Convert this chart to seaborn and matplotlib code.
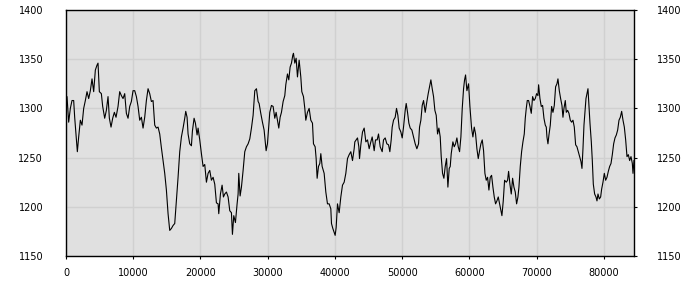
import matplotlib
matplotlib.use("Agg")
import matplotlib.pyplot as plt
import seaborn as sns
import pandas as pd

x_values = [
    0, 149, 397, 645, 893, 1141, 1290, 1488, 1687, 1885, 2133, 2381, 2629, 2877, 3125, 3373, 3621, 3869,
    4117, 4365, 4613, 4762, 4960, 5258, 5456, 5754, 6002, 6250, 6448, 6696, 6944, 7192, 7440, 7738, 7986,
    8234, 8482, 8730, 8978, 9226, 9474, 9722, 9970, 10218, 10466, 10714, 10962, 11210, 11458, 11706, 11954,
    12202, 12450, 12698, 12946, 13194, 13442, 13690, 13938, 14186,
    14434, 14682, 14930, 15178, 15426, 15674, 15922, 16170, 16418, 16666, 16914, 17162, 17410, 17658, 17807,
    18005, 18154, 18402, 18650, 18799, 19047, 19245, 19493, 19642, 19890, 20138, 20386, 20634, 20882, 21130,
    21378, 21626, 21874, 22122, 22370, 22618, 22717, 22965, 23213, 23412, 23610, 23858, 24106, 24354, 24602,
    24751, 24949, 25197, 25445, 25594, 25693, 25892, 26090, 26338, 26586, 26834, 27082, 27330, 27578, 27826,
    28074, 28322, 28570,
    28718, 28966, 29214, 29462, 29611, 29760, 29958, 30107, 30305, 30553, 30801, 31049, 31248, 31446, 31644,
    31843, 32041, 32289, 32537, 32686, 32934, 33132, 33331, 33529, 33728, 33827, 34025, 34224, 34422, 34670,
    34918, 35067, 35315, 35513, 35662, 35910, 36158, 36406, 36654, 36803, 37051, 37200, 37348, 37547, 37745,
    37894, 38092, 38390, 38638, 38886, 39134, 39382, 39481, 39680, 39878, 40027, 40176, 40374, 40622, 40870,
    41118, 41366, 41614, 41862, 42110, 42358, 42606, 42854,
    42953, 43152, 43350, 43549, 43648, 43846, 44094, 44342, 44590, 44838, 45086, 45334, 45533, 45831, 46029,
    46277, 46475, 46723, 47021, 47219, 47467, 47715, 47963, 48161, 48360, 48509, 48707, 48955, 49153, 49352,
    49550, 49798, 49997, 50195, 50443, 50592, 50790, 50989, 51187, 51435, 51683, 51931, 52179, 52427, 52576,
    52774, 52973, 53171, 53419, 53667, 53865, 54064, 54262, 54461, 54659, 54857, 55056, 55254, 55453, 55651,
    55800, 55998, 56197, 56395, 56594, 56792, 56990, 57139,
    57288, 57536, 57734, 57933, 58131, 58330, 58528, 58726, 58925, 59123, 59272, 59421, 59619, 59867, 60066,
    60314, 60512, 60710, 60909, 61107, 61306, 61504, 61702, 61901, 62099, 62298, 62496, 62694, 62893, 63091,
    63290, 63488, 63686, 63885, 64083, 64282, 64480, 64678, 64827, 65026, 65224, 65472, 65670, 65819, 66018,
    66216, 66414, 66613, 66811, 67010, 67208, 67357, 67555, 67754, 67952, 68150, 68299, 68448, 68597, 68795,
    68994, 69192, 69390, 69589, 69787, 69986, 70184, 70283, 70482, 70680, 70878, 71077, 71275, 71424,
    71523, 71672, 71821, 72019, 72218, 72416, 72615, 72813, 73011, 73160, 73359, 73557, 73755, 73904, 74053,
    74251, 74400, 74599, 74797, 74995, 75194, 75392, 75590, 75789, 75987, 76186, 76384, 76582, 76731, 76880,
    77029, 77178, 77327, 77476, 77624, 77773, 77922, 78120, 78269, 78418, 78616, 78815, 78964, 79112, 79311,
    79509, 79658, 79856, 80055, 80253, 80451, 80650, 80848, 81047, 81245, 81443, 81642, 81840, 82039, 82237,
    82435, 82634, 82832, 83031, 83229, 83427, 83626, 83824, 84022, 84221, 84320, 84469,
]

y_values = [
    1305, 1312, 1286, 1300, 1308, 1308, 1291, 1273, 1256, 1271, 1288, 1283, 1300, 1308, 1317, 1310, 1318, 1330,
    1317, 1339, 1344, 1346, 1317, 1315, 1302, 1290, 1298, 1312, 1290, 1281, 1290, 1296, 1291, 1302, 1317,
    1313, 1310, 1315, 1295, 1290, 1302, 1307, 1318, 1318, 1312, 1302, 1288, 1291, 1280, 1291, 1308,
    1320, 1315, 1307, 1308, 1283, 1280, 1281, 1274, 1260,
    1247, 1234, 1217, 1193, 1176, 1178, 1181, 1183, 1206, 1230, 1256, 1271, 1280, 1290, 1297,
    1291, 1274, 1264, 1262, 1277, 1290, 1285, 1273, 1280, 1268, 1254, 1241, 1243, 1225, 1234,
    1237, 1227, 1230, 1223, 1204, 1203, 1193, 1213, 1222, 1210, 1213, 1215, 1210, 1196, 1194,
    1172, 1191, 1184, 1203, 1213, 1234, 1211, 1220, 1237, 1256, 1261, 1264, 1269, 1280, 1293,
    1318, 1320, 1307,
    1305, 1295, 1286, 1278, 1268, 1257, 1264, 1278, 1296, 1303, 1302, 1290, 1296, 1288, 1280,
    1291, 1296, 1307, 1313, 1324, 1335, 1329, 1342, 1346, 1354, 1356, 1346, 1351, 1332, 1349,
    1332, 1317, 1312, 1300, 1288, 1296, 1300, 1288, 1285, 1264, 1261, 1249, 1229, 1241, 1244,
    1254, 1241, 1234, 1215, 1203, 1203, 1198, 1183, 1178, 1174, 1171, 1179, 1203, 1194, 1210,
    1222, 1225, 1234, 1249, 1253, 1256, 1247, 1259,
    1266, 1268, 1270, 1261, 1249, 1263, 1276, 1280, 1266, 1268, 1259, 1266, 1271, 1257, 1268,
    1268, 1274, 1261, 1256, 1268, 1270, 1264, 1263, 1256, 1268, 1281, 1288, 1291, 1300, 1293,
    1280, 1276, 1270, 1281, 1298, 1305, 1296, 1285, 1280, 1278, 1271, 1264, 1259, 1264, 1281,
    1288, 1303, 1308, 1296, 1307, 1315, 1322, 1329, 1320, 1312, 1298, 1293, 1274, 1280, 1271,
    1251, 1234, 1229, 1241, 1249, 1220, 1239, 1241,
    1254, 1266, 1261, 1264, 1270, 1261, 1256, 1271, 1300, 1320, 1329, 1334, 1318, 1325, 1302,
    1280, 1271, 1281, 1274, 1259, 1249, 1257, 1264, 1268, 1257, 1234, 1227, 1230, 1217, 1230,
    1232, 1220, 1210, 1203, 1206, 1210, 1203, 1196, 1191, 1206, 1227, 1225, 1227, 1236, 1223,
    1213, 1229, 1220, 1215, 1203, 1210, 1220, 1241, 1256, 1266, 1274, 1290, 1300, 1308, 1308,
    1302, 1295, 1312, 1308, 1310, 1315, 1313, 1324, 1310, 1302, 1303, 1290, 1283, 1281,
    1271, 1264, 1273, 1283, 1302, 1296, 1303, 1322, 1325, 1330, 1318, 1310, 1303, 1291, 1300,
    1308, 1296, 1298, 1295, 1288, 1286, 1288, 1281, 1263, 1261, 1256, 1251, 1246, 1239, 1259,
    1283, 1296, 1310, 1315, 1320, 1302, 1285, 1266, 1247, 1223, 1213, 1210, 1206, 1213, 1208,
    1210, 1218, 1225, 1234, 1227, 1230, 1236, 1241, 1244, 1253, 1264, 1270, 1273, 1278, 1288,
    1291, 1297, 1288, 1281, 1268, 1251, 1253, 1247, 1251, 1244, 1234, 1247,
]

x_ticks = [0, 10000, 20000, 30000, 40000, 50000, 60000, 70000, 80000]
y_ticks = [1150, 1200, 1250, 1300, 1350, 1400]

df = pd.DataFrame({"x": x_values, "y": y_values})

plt.rcParams['font.family'] = ['DejaVu Sans']
fig = plt.figure(figsize=(7, 3), dpi=100)
ax = fig.add_axes([66 / 700, 1 - 256 / 300, (634 - 66) / 700, (256 - 10) / 300])
ax.set_facecolor("#e0e0e0")

sns.lineplot(data=df, x="x", y="y", ax=ax, color="black", linewidth=0.8, estimator=None, sort=False)

ax.set_xlim(0, x_values[-1])
ax.set_ylim(y_ticks[0], y_ticks[-1])
ax.set_xticks(x_ticks)
ax.set_yticks(y_ticks)
ax.set_xticklabels([str(t) for t in x_ticks])
ax.set_yticklabels([str(t) for t in y_ticks])
ax.set_xlabel("")
ax.set_ylabel("")
ax.grid(True, color="#d0d0d0", linewidth=1.0)
ax.set_axisbelow(True)

for s in ax.spines.values():
    s.set_color("black")
    s.set_linewidth(1.0)

ax.tick_params(axis="y", left=False, right=True, labelleft=True, labelright=True,
               length=2.5, width=0.8, pad=14, labelsize=7, colors="black")
ax.tick_params(axis="x", length=2.5, width=0.8, pad=6, labelsize=7, colors="black")

fig.savefig("out.png", dpi=100)
